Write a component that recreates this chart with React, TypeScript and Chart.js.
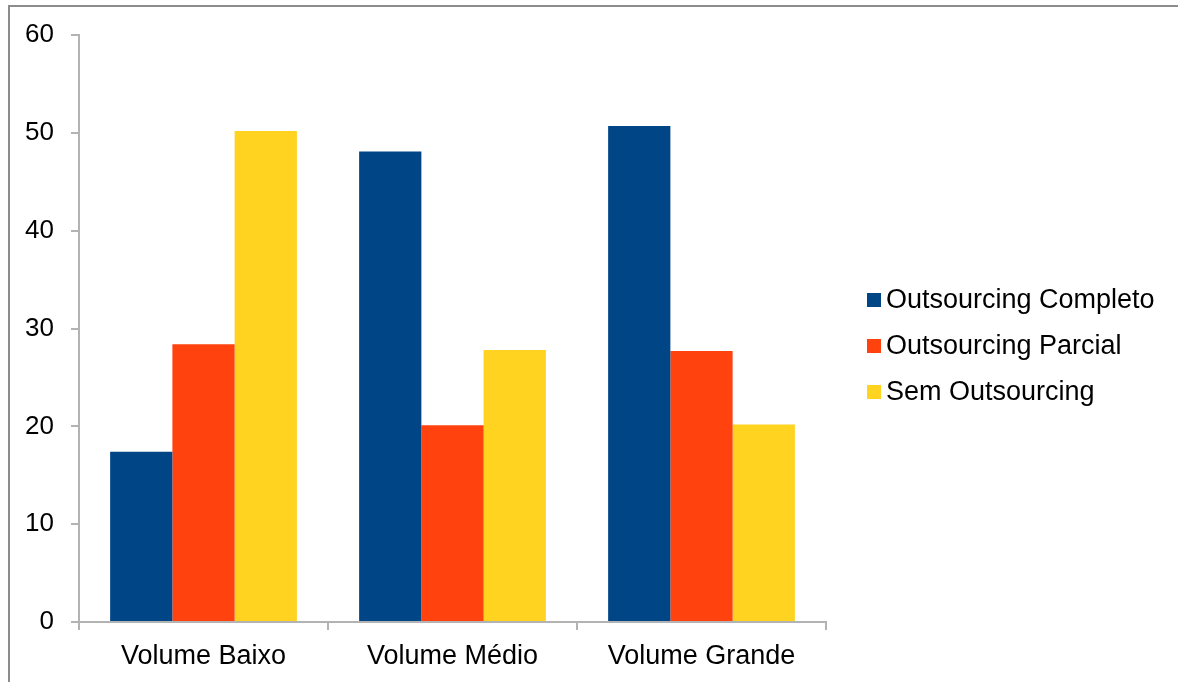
import React, { useEffect, useRef } from "react";
import { Chart, registerables } from "chart.js";

Chart.register(...registerables);

// Categories and series
const categories = ["Volume Baixo", "Volume Médio", "Volume Grande"];
const seriesNames = ["Outsourcing Completo", "Outsourcing Parcial", "Sem Outsourcing"];
const completo = [17.4, 48.1, 50.7];
const parcial = [28.4, 20.1, 27.7];
const semOutsourcing = [50.2, 27.8, 20.2];
const seriesColors = ["#004586", "#ff420e", "#ffd320"];
const yTicks = [0, 10, 20, 30, 40, 50, 60];

const FONT_FAMILY = '"Liberation Sans", Arial, sans-serif';
const AXIS_COLOR = "#b3b3b3";

// Legend drawn to the right of the plot: square marker followed by the series name
const sideLegend = {
  id: "sideLegend",
  afterDraw(chart: any) {
    const { ctx, chartArea } = chart;
    const x0 = chartArea.right + 41;
    const firstY = 300;
    const rowGap = 46;
    const box = 14;
    ctx.save();
    ctx.font = `27px ${FONT_FAMILY}`;
    ctx.textBaseline = "middle";
    ctx.textAlign = "left";
    chart.data.datasets.forEach((ds: any, i: number) => {
      const y = firstY + i * rowGap;
      ctx.fillStyle = ds.backgroundColor;
      ctx.fillRect(x0, y - box / 2, box, box);
      ctx.fillStyle = "#000000";
      ctx.fillText(ds.label, x0 + 19, y + 1);
    });
    ctx.restore();
  },
};

export default function App() {
  const canvasRef = useRef<HTMLCanvasElement | null>(null);

  useEffect(() => {
    if (!canvasRef.current) return;
    const values = [completo, parcial, semOutsourcing];
    const chart = new Chart(canvasRef.current, {
      type: "bar",
      data: {
        labels: categories,
        datasets: seriesNames.map((name, i) => ({
          label: name,
          data: values[i],
          backgroundColor: seriesColors[i],
          borderWidth: 0,
          categoryPercentage: 0.75,
          barPercentage: 1,
        })),
      },
      options: {
        animation: false,
        responsive: false,
        maintainAspectRatio: false,
        layout: { padding: { top: 35, right: 352, bottom: 0, left: 0 } },
        plugins: {
          legend: { display: false },
          tooltip: { enabled: false },
        },
        scales: {
          x: {
            offset: true,
            grid: {
              offset: true,
              drawOnChartArea: false,
              drawTicks: true,
              tickLength: 8,
              color: AXIS_COLOR,
              lineWidth: 2,
            },
            border: { display: true, color: AXIS_COLOR, width: 2 },
            ticks: {
              color: "#000000",
              font: { family: FONT_FAMILY, size: 27 },
              padding: 10,
              maxRotation: 0,
            },
            afterFit(scale: any) {
              scale.height = 60;
            },
          },
          y: {
            min: 0,
            max: 60,
            afterBuildTicks(scale: any) {
              scale.ticks = yTicks.map((v) => ({ value: v }));
            },
            grid: {
              drawOnChartArea: false,
              drawTicks: true,
              tickLength: 8,
              color: AXIS_COLOR,
              lineWidth: 2,
            },
            border: { display: true, color: AXIS_COLOR, width: 2 },
            ticks: {
              color: "#000000",
              font: { family: FONT_FAMILY, size: 26 },
              padding: 17,
            },
            afterFit(scale: any) {
              scale.width = 79;
            },
          },
        },
      },
      plugins: [sideLegend],
    });
    return () => chart.destroy();
  }, []);

  return (
    <div
      style={{
        position: "fixed",
        left: 0,
        top: 0,
        width: 1178,
        height: 682,
        overflow: "hidden",
        background: "#ffffff",
      }}
    >
      <div
        style={{
          position: "absolute",
          left: 8,
          top: 5,
          width: 1300,
          height: 800,
          border: "2px solid #8c8c8c",
          boxSizing: "border-box",
        }}
      />
      <canvas
        ref={canvasRef}
        width={1178}
        height={682}
        style={{ position: "absolute", left: 0, top: 0, width: 1178, height: 682 }}
      />
    </div>
  );
}
